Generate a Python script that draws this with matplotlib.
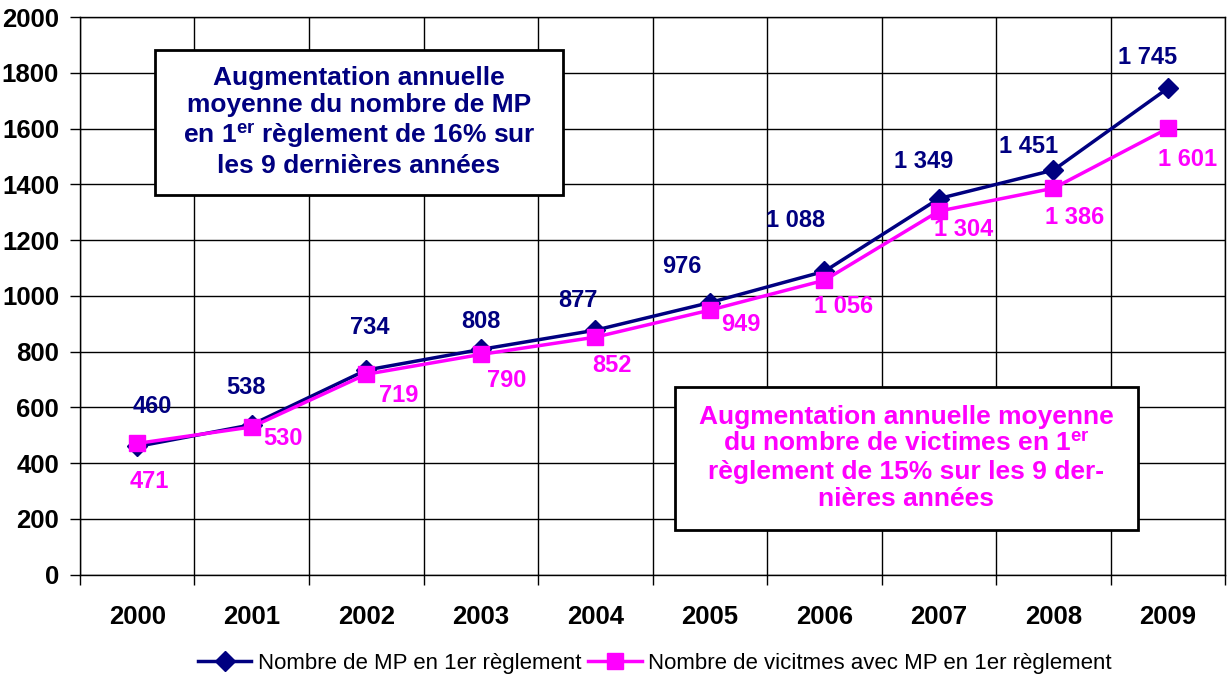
import matplotlib.pyplot as plt
from matplotlib.patches import Rectangle

plt.rcParams['font.family'] = ['Liberation Sans', 'DejaVu Sans']
plt.rcParams['mathtext.fontset'] = 'custom'
plt.rcParams['mathtext.rm'] = 'Liberation Sans:bold'
plt.rcParams['mathtext.bf'] = 'Liberation Sans:bold'
plt.rcParams['mathtext.it'] = 'Liberation Sans:bold'

annees = ['2000', '2001', '2002', '2003', '2004', '2005', '2006', '2007', '2008', '2009']
nb_mp = [460, 538, 734, 808, 877, 976, 1088, 1349, 1451, 1745]
nb_victimes = [471, 530, 719, 790, 852, 949, 1056, 1304, 1386, 1601]
lab_mp = ['460', '538', '734', '808', '877', '976', '1 088', '1 349', '1 451', '1 745']
lab_vict = ['471', '530', '719', '790', '852', '949', '1 056', '1 304', '1 386', '1 601']

# decalage des etiquettes (pixels)
off_mp = [(15, 40), (-6, 37), (4, 43), (0, 28), (-17, 30), (-28, 36), (-29, 51), (-15, 37), (-25, 24), (-20, 31)]
off_vict = [(12, -38), (31, -12), (32, -21), (26, -26), (17, -28), (31, -14), (19, -26), (25, -18), (21, -29), (20, -31)]

bleu = '#000080'
rose = '#FF00FF'

fig = plt.figure(figsize=(12.29, 6.81), dpi=100)
ax = fig.add_axes([0.065, 0.156, 0.932, 0.819])

x = list(range(len(annees)))
ax.plot(x, nb_mp, color=bleu, lw=2.5, marker='D', ms=10, label='Nombre de MP en 1er règlement', zorder=3)
ax.plot(x, nb_victimes, color=rose, lw=2.5, marker='s', ms=11, label='Nombre de vicitmes avec MP en 1er règlement', zorder=4)

for i in x:
    ax.annotate(lab_mp[i], (i, nb_mp[i]), xytext=off_mp[i], textcoords='offset pixels',
                ha='center', va='center', color=bleu, fontsize=17, fontweight='bold', zorder=5)
    ax.annotate(lab_vict[i], (i, nb_victimes[i]), xytext=off_vict[i], textcoords='offset pixels',
                ha='center', va='center', color=rose, fontsize=17, fontweight='bold', zorder=5)

ax.set_xlim(-0.5, 9.5)
ax.set_ylim(0, 2000)
ax.set_yticks(range(0, 2001, 200))
ax.set_xticks([i - 0.5 for i in range(11)])
ax.set_xticklabels([])
ax.set_xticks(x, minor=True)
ax.set_xticklabels(annees, minor=True)
ax.tick_params(axis='x', which='minor', length=0, pad=22, labelsize=18.5)
ax.tick_params(axis='x', which='major', length=7, width=1)
ax.tick_params(axis='y', length=7, width=1, labelsize=18.5, pad=8)
for t in ax.get_xticklabels(minor=True) + ax.get_yticklabels():
    t.set_fontweight('bold')
ax.grid(True, which='major', color='black', lw=1)
for s in ax.spines.values():
    s.set_color('black')
    s.set_linewidth(1)

W, H = 1229, 681
def boite(x0, y0, x1, y1):
    fig.patches.append(Rectangle((x0 / W, 1 - y1 / H), (x1 - x0) / W, (y1 - y0) / H,
                                 transform=fig.transFigure, facecolor='white',
                                 edgecolor='black', lw=2, zorder=5))

boite(155, 50, 563, 195)
fig.text(359 / W, 1 - 122 / H,
         'Augmentation annuelle\nmoyenne du nombre de MP\nen $1^{er}$ règlement de 16% sur\nles 9 dernières années',
         ha='center', va='center', color=bleu, fontsize=19, fontweight='bold',
         linespacing=1.19, zorder=6)

boite(675, 387, 1138, 530)
fig.text(906 / W, 1 - 458 / H,
         'Augmentation annuelle moyenne\ndu nombre de victimes en $1^{er}$\nrèglement de 15% sur les 9 der-\nnières années',
         ha='center', va='center', color=rose, fontsize=19, fontweight='bold',
         linespacing=1.19, zorder=6)

fig.legend(loc='center', bbox_to_anchor=(655 / W, 1 - 663 / H), ncol=2, frameon=False,
           fontsize=16, handlelength=2.4, handletextpad=0.3, columnspacing=0.3)

fig.savefig('out.png', dpi=100)
